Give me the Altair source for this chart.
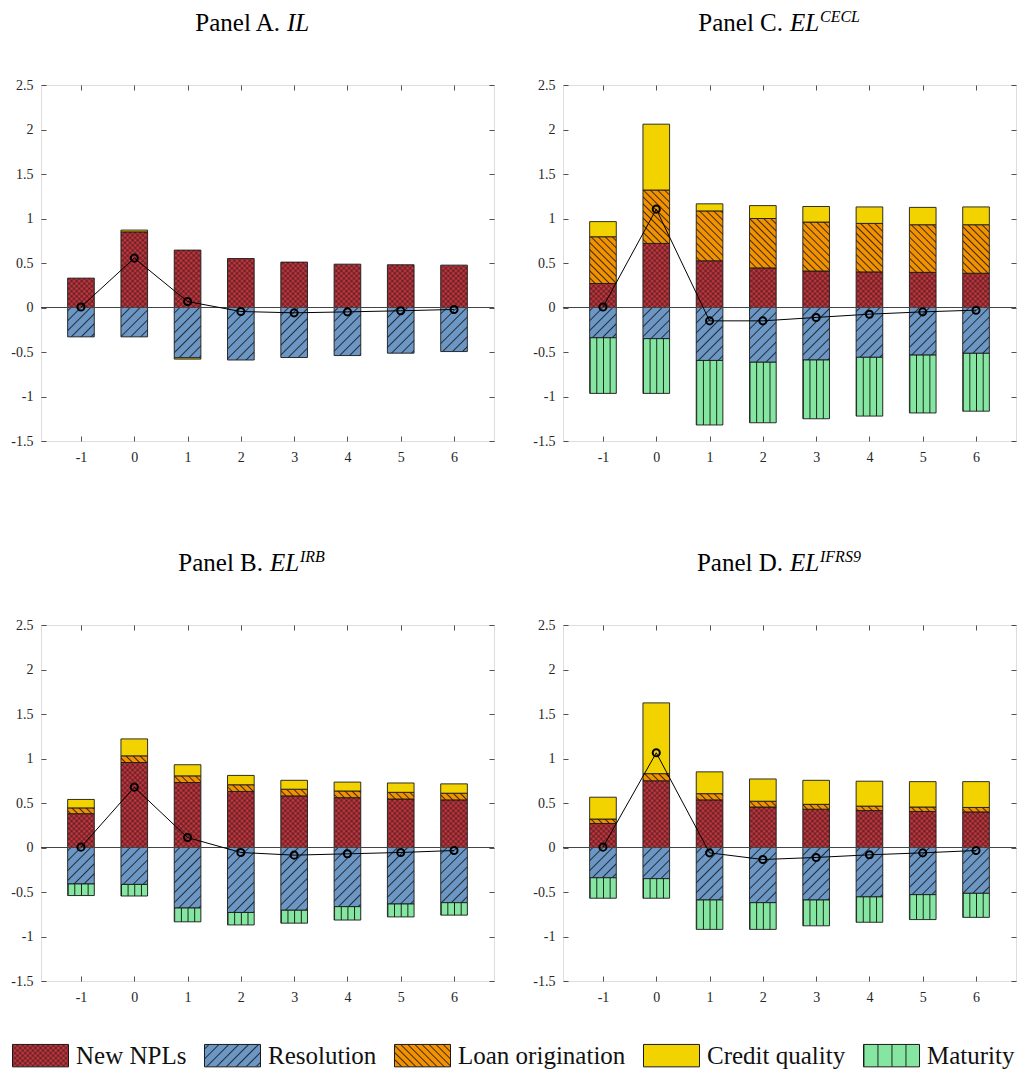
import altair as alt
import pandas as pd
import jinja2

# ---------------- data ----------------
periods = [-1, 0, 1, 2, 3, 4, 5, 6]
components = ["New NPLs", "Resolution", "Loan origination", "Credit quality", "Maturity"]
stack_rank = {"New NPLs": 0, "Resolution": 1, "Loan origination": 2, "Credit quality": 3, "Maturity": 4}

# Panel A. IL
A_npl = [0.33, 0.85, 0.645, 0.55, 0.51, 0.487, 0.48, 0.476]
A_res = [-0.33, -0.33, -0.565, -0.59, -0.562, -0.54, -0.513, -0.495]
A_cq = [0.0, 0.02, -0.015, 0.0, 0.0, 0.0, 0.0, 0.0]
A_net = [0.005, 0.555, 0.067, -0.045, -0.06, -0.049, -0.037, -0.022]

# Panel C. EL^CECL
C_npl = [0.27, 0.72, 0.525, 0.445, 0.41, 0.40, 0.395, 0.385]
C_lo = [0.525, 0.60, 0.56, 0.555, 0.55, 0.545, 0.535, 0.545]
C_cq = [0.17, 0.74, 0.08, 0.145, 0.175, 0.185, 0.195, 0.20]
C_res = [-0.34, -0.35, -0.595, -0.615, -0.59, -0.56, -0.535, -0.515]
C_mat = [-0.625, -0.615, -0.725, -0.68, -0.66, -0.66, -0.65, -0.65]
C_net = [0.005, 1.105, -0.15, -0.15, -0.112, -0.075, -0.049, -0.03]

# Panel B. EL^IRB
B_npl = [0.38, 0.955, 0.73, 0.63, 0.58, 0.56, 0.545, 0.535]
B_lo = [0.065, 0.075, 0.075, 0.075, 0.075, 0.075, 0.075, 0.075]
B_cq = [0.095, 0.19, 0.125, 0.105, 0.10, 0.10, 0.105, 0.105]
B_res = [-0.41, -0.415, -0.68, -0.73, -0.705, -0.665, -0.635, -0.62]
B_mat = [-0.13, -0.13, -0.155, -0.14, -0.145, -0.15, -0.145, -0.14]
B_net = [0.004, 0.678, 0.112, -0.056, -0.086, -0.071, -0.056, -0.034]

# Panel D. EL^IFRS9
D_npl = [0.27, 0.75, 0.535, 0.455, 0.43, 0.415, 0.405, 0.40]
D_lo = [0.05, 0.08, 0.07, 0.065, 0.055, 0.05, 0.05, 0.05]
D_cq = [0.245, 0.795, 0.245, 0.25, 0.27, 0.28, 0.285, 0.29]
D_res = [-0.34, -0.35, -0.59, -0.62, -0.59, -0.555, -0.53, -0.515]
D_mat = [-0.23, -0.22, -0.33, -0.30, -0.29, -0.285, -0.28, -0.27]
D_net = [0.004, 1.064, -0.06, -0.135, -0.112, -0.082, -0.06, -0.034]

panel_data = {
    "A": {"New NPLs": A_npl, "Resolution": A_res, "Credit quality": A_cq},
    "C": {"New NPLs": C_npl, "Resolution": C_res, "Loan origination": C_lo,
          "Credit quality": C_cq, "Maturity": C_mat},
    "B": {"New NPLs": B_npl, "Resolution": B_res, "Loan origination": B_lo,
          "Credit quality": B_cq, "Maturity": B_mat},
    "D": {"New NPLs": D_npl, "Resolution": D_res, "Loan origination": D_lo,
          "Credit quality": D_cq, "Maturity": D_mat},
}
panel_net = {"A": A_net, "C": C_net, "B": B_net, "D": D_net}
# title pieces: (normal part, italic part, italic superscript)
panel_titles = {
    "A": ("Panel A.", "IL", ""),
    "C": ("Panel C.", "EL", "CECL"),
    "B": ("Panel B.", "EL", "IRB"),
    "D": ("Panel D.", "EL", "IFRS9"),
}

# ---------------- styles ----------------
RED, BLUE, ORANGE, YELLOW, GREEN = "#C8373F", "#6C97C4", "#F29200", "#F2D300", "#84E6A0"
fills = ["url(#pat_npl)", "url(#pat_res)", "url(#pat_lo)", YELLOW, "url(#pat_mat)"]
SERIF = "Liberation Serif"
PW, PH = 453, 356
TITLE_SPLIT = {"A": 239, "C": 220, "B": 222, "D": 220}
TITLE_Y, SUP_Y = -54, -63

DEFS = f"""
<svg width="0" height="0" style="position:absolute;left:0;top:0" aria-hidden="true">
  <defs>
    <pattern id="pat_npl" patternUnits="userSpaceOnUse" width="3.6" height="3.6" patternTransform="rotate(45)">
      <rect width="3.6" height="3.6" fill="{RED}"/>
      <path d="M0,1.8 H3.6 M1.8,0 V3.6" stroke="#111" stroke-width="0.55"/>
    </pattern>
    <pattern id="pat_res" patternUnits="userSpaceOnUse" width="7" height="7" patternTransform="rotate(45)">
      <rect width="7" height="7" fill="{BLUE}"/>
      <path d="M3.5,0 V7" stroke="#111" stroke-width="0.8"/>
    </pattern>
    <pattern id="pat_lo" patternUnits="userSpaceOnUse" width="5" height="5" patternTransform="rotate(-45)">
      <rect width="5" height="5" fill="{ORANGE}"/>
      <path d="M2.5,0 V5" stroke="#111" stroke-width="0.8"/>
    </pattern>
    <pattern id="pat_mat" patternUnits="objectBoundingBox" width="0.25" height="1">
      <rect width="400" height="2000" fill="{GREEN}"/>
      <rect x="0" y="0" width="0.9" height="2000" fill="#111"/>
    </pattern>
  </defs>
</svg>
"""

TEMPLATE = jinja2.Template("""<!DOCTYPE html>
<html>
<head>
  <meta charset="utf-8">
  <style>
    #{{ output_div }}.vega-embed { width: 100%; display: flex; }
    #{{ output_div }}.vega-embed details,
    #{{ output_div }}.vega-embed details summary { position: relative; }
  </style>
  <script type="text/javascript" src="{{ base_url }}/vega@{{ vega_version }}"></script>
  <script type="text/javascript" src="{{ base_url }}/vega-lite@{{ vegalite_version }}"></script>
  <script type="text/javascript" src="{{ base_url }}/vega-embed@{{ vegaembed_version }}"></script>
</head>
<body>
""" + DEFS + """
  <div id="{{ output_div }}"></div>
  <script>
    (function(vegaEmbed) {
      var spec = {{ spec }};
      var embedOpt = {{ embed_options }};
      function showError(el, error){
        el.innerHTML = ('<div style="color:red;"><p>JavaScript Error: ' + error.message + '</p></div>');
        throw error;
      }
      const el = document.getElementById('{{ output_div }}');
      vegaEmbed("#{{ output_div }}", spec, embedOpt).catch(error => showError(el, error));
    })(vegaEmbed);
  </script>
</body>
</html>
""")

xscale = alt.Scale(domain=[-1.75, 6.75], nice=False, zero=False)
yscale = alt.Scale(domain=[-1.5, 2.5], nice=False, zero=False)
yvals = [-1.5, -1, -0.5, 0, 0.5, 1, 1.5, 2, 2.5]

common_axis = dict(domain=False, grid=False, tickSize=5, offset=-5, tickColor="#262626",
                   tickWidth=0.8, labelFont=SERIF, labelFontSize=14, labelColor="#262626",
                   title=None)
x_bottom = alt.Axis(orient="bottom", values=periods, labelExpr="datum.value + ''",
                    labelPadding=9, **common_axis)
y_left = alt.Axis(orient="left", values=yvals, labelExpr="datum.value + ''",
                  labelPadding=8, **common_axis)
x_top = alt.Axis(orient="top", values=periods, labels=False, **common_axis)
y_right = alt.Axis(orient="right", values=yvals, labels=False, **common_axis)

legend_style = dict(
    symbolType="M-2.5,-1L2.5,-1L2.5,1L-2.5,1Z", symbolSize=502,
    symbolStrokeColor="#1a1a1a", symbolStrokeWidth=1, labelFont=SERIF,
    labelFontSize=25, labelColor="#111", labelOffset=23, columnPadding=15,
    labelLimit=400, padding=0,
)
legend = alt.Legend(orient="none", legendX=-13, legendY=958, direction="horizontal",
                    columns=5, title=None, **legend_style)
fill_enc = alt.Fill("component:N", scale=alt.Scale(domain=components, range=fills),
                    legend=legend)


def make_panel(key):
    rows = []
    for comp, vals in panel_data[key].items():
        for p, v in zip(periods, vals):
            if v != 0:
                rows.append({"period": p, "component": comp, "value": v,
                             "rank": stack_rank[comp]})
    comp_df = pd.DataFrame(rows)
    net_df = pd.DataFrame({"period": periods, "net": panel_net[key]})

    bars = alt.Chart(comp_df).transform_stack(
        stack="value", groupby=["period"], as_=["y0", "y1"], offset="zero",
        sort=[alt.SortField("rank", order="ascending")],
    ).transform_calculate(
        x0="datum.period - 0.25", x1="datum.period + 0.25"
    ).mark_rect(stroke="#1a1a1a", strokeWidth=0.9).encode(
        x=alt.X("x0:Q", scale=xscale, axis=x_bottom, title=None),
        x2="x1:Q",
        y=alt.Y("y0:Q", scale=yscale, axis=y_left, title=None),
        y2="y1:Q",
        fill=fill_enc,
    )
    zero = alt.Chart(pd.DataFrame({"z": [0]})).mark_rule(
        color="#444", strokeWidth=1
    ).encode(y=alt.Y("z:Q", scale=yscale, axis=None))
    line = alt.Chart(net_df).mark_line(color="black", strokeWidth=1).encode(
        x=alt.X("period:Q", scale=xscale, axis=x_top, title=None),
        y=alt.Y("net:Q", scale=yscale, axis=y_right, title=None),
    )
    pts = alt.Chart(net_df).mark_point(
        shape="circle", filled=False, color="black", size=50, strokeWidth=2, opacity=1
    ).encode(
        x=alt.X("period:Q", scale=xscale, axis=None),
        y=alt.Y("net:Q", scale=yscale, axis=None),
    )
    t_norm, t_ital, t_sup = panel_titles[key]
    split = TITLE_SPLIT[key]
    one = pd.DataFrame({"k": [0]})
    t1 = alt.Chart(one).mark_text(font=SERIF, fontSize=25, align="right",
                                  baseline="alphabetic", color="black").encode(
        x=alt.value(split), y=alt.value(TITLE_Y), text=alt.value(t_norm))
    t2 = alt.Chart(one).mark_text(font=SERIF, fontSize=25, fontStyle="italic", align="left",
                                  baseline="alphabetic", color="black").encode(
        x=alt.value(split + 7), y=alt.value(TITLE_Y), text=alt.value(t_ital))
    layers = [bars, zero, line, pts, t1, t2]
    if t_sup:
        t3 = alt.Chart(one).mark_text(font=SERIF, fontSize=16, fontStyle="italic",
                                      align="left", baseline="alphabetic",
                                      color="black").encode(
            x=alt.value(split + 37), y=alt.value(SUP_Y), text=alt.value(t_sup))
        layers.append(t3)
    return alt.layer(*layers).resolve_axis(x="independent", y="independent").properties(
        width=PW, height=PH)


row1 = alt.hconcat(make_panel("A"), make_panel("C"), spacing=37)
row2 = alt.hconcat(make_panel("B"), make_panel("D"), spacing=37)
chart = alt.vconcat(row1, row2, spacing=83).resolve_scale(fill="shared").properties(
    padding={"left": 2, "top": 0, "right": 0, "bottom": 0}
).configure_view(
    stroke="#262626", strokeWidth=1
).configure_legend(**legend_style).configure(font=SERIF)

chart.save("out.html", embed_options={"renderer": "svg", "actions": False}, template=TEMPLATE)
